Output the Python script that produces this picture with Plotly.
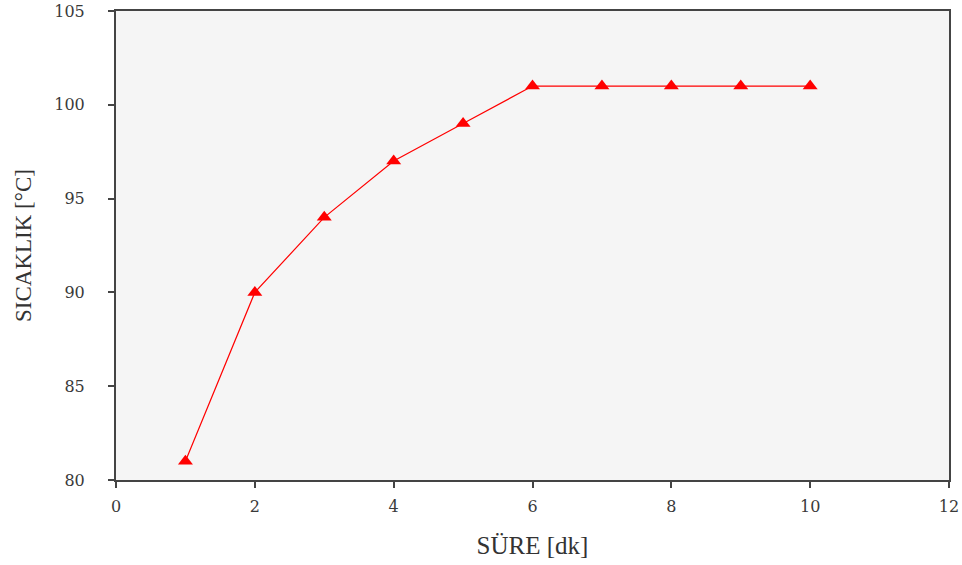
import plotly.graph_objects as go

sure_dk = [1, 2, 3, 4, 5, 6, 7, 8, 9, 10]
sicaklik = [81, 90, 94, 97, 99, 101, 101, 101, 101, 101]
x_ticks = [0, 2, 4, 6, 8, 10, 12]
y_ticks = [80, 85, 90, 95, 100, 105]

fig = go.Figure()
fig.add_trace(go.Scatter(
    x=sure_dk, y=sicaklik, mode="lines+markers",
    line=dict(color="#ff0000", width=1.2),
    marker=dict(symbol="triangle-up", size=13, color="#ff0000"),
    showlegend=False, cliponaxis=False,
))

axis_common = dict(
    showgrid=False, zeroline=False, showline=True, linecolor="#444444", linewidth=2,
    mirror=True, ticks="outside", ticklen=6, tickwidth=2, tickcolor="#444444",
    tickfont=dict(family="DejaVu Serif", size=16, color="#3a3a3a"),
    automargin=False,
)
fig.update_xaxes(range=[0, 12], tickvals=x_ticks, ticklabelstandoff=5, **axis_common,
                 title=dict(text="SÜRE [dk]", font=dict(family="Liberation Serif", size=25, color="#333333"), standoff=21))
fig.update_yaxes(range=[80, 105], tickvals=y_ticks, ticklabelstandoff=20, **axis_common,
                 title=dict(text="SICAKLIK [°C]", font=dict(family="Liberation Serif", size=23, color="#333333"), standoff=16))

fig.update_layout(
    width=962, height=565,
    margin=dict(l=116, r=13, t=11, b=85),
    plot_bgcolor="#f5f5f5", paper_bgcolor="white",
)
fig.write_html("out.html", config={"displayModeBar": False},
               post_script="document.body.style.margin='0';")
